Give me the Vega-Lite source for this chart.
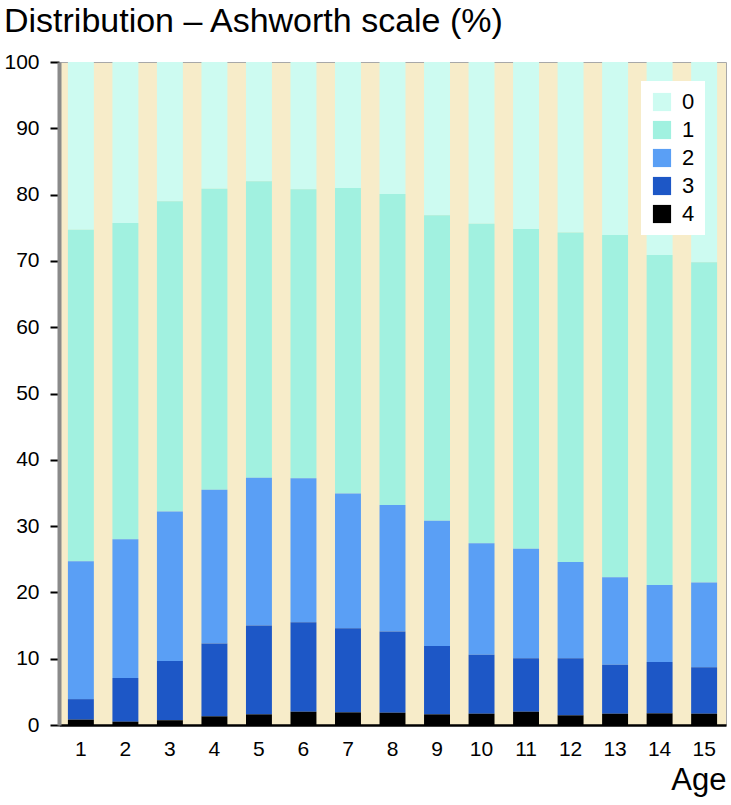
{
  "$schema": "https://vega.github.io/schema/vega-lite/v6.json",
  "width": 667,
  "height": 663,
  "padding": {"left": 3, "top": 5, "right": 4, "bottom": 3},
  "background": "white",
  "config": {
    "font": "Liberation Sans",
    "view": {"fill": "#f7ecc9", "stroke": "#a8a8a8", "strokeWidth": 1}
  },
  "title": {
    "text": "Distribution – Ashworth scale (%)",
    "anchor": "start",
    "frame": "bounds",
    "fontSize": 34,
    "fontWeight": "normal",
    "color": "black",
    "offset": 12
  },
  "data": {
    "values": [
      {"age": 1, "cat": "0", "pct": 25.3}, {"age": 1, "cat": "1", "pct": 50.0}, {"age": 1, "cat": "2", "pct": 20.8}, {"age": 1, "cat": "3", "pct": 3.1}, {"age": 1, "cat": "4", "pct": 0.8},
      {"age": 2, "cat": "0", "pct": 24.3}, {"age": 2, "cat": "1", "pct": 47.7}, {"age": 2, "cat": "2", "pct": 20.9}, {"age": 2, "cat": "3", "pct": 6.6}, {"age": 2, "cat": "4", "pct": 0.5},
      {"age": 3, "cat": "0", "pct": 21.0}, {"age": 3, "cat": "1", "pct": 46.8}, {"age": 3, "cat": "2", "pct": 22.55}, {"age": 3, "cat": "3", "pct": 8.95}, {"age": 3, "cat": "4", "pct": 0.7},
      {"age": 4, "cat": "0", "pct": 19.1}, {"age": 4, "cat": "1", "pct": 45.4}, {"age": 4, "cat": "2", "pct": 23.2}, {"age": 4, "cat": "3", "pct": 11.0}, {"age": 4, "cat": "4", "pct": 1.3},
      {"age": 5, "cat": "0", "pct": 18.0}, {"age": 5, "cat": "1", "pct": 44.7}, {"age": 5, "cat": "2", "pct": 22.3}, {"age": 5, "cat": "3", "pct": 13.4}, {"age": 5, "cat": "4", "pct": 1.6},
      {"age": 6, "cat": "0", "pct": 19.2}, {"age": 6, "cat": "1", "pct": 43.6}, {"age": 6, "cat": "2", "pct": 21.7}, {"age": 6, "cat": "3", "pct": 13.5}, {"age": 6, "cat": "4", "pct": 2.0},
      {"age": 7, "cat": "0", "pct": 19.0}, {"age": 7, "cat": "1", "pct": 46.1}, {"age": 7, "cat": "2", "pct": 20.3}, {"age": 7, "cat": "3", "pct": 12.7}, {"age": 7, "cat": "4", "pct": 1.9},
      {"age": 8, "cat": "0", "pct": 19.9}, {"age": 8, "cat": "1", "pct": 46.9}, {"age": 8, "cat": "2", "pct": 19.1}, {"age": 8, "cat": "3", "pct": 12.25}, {"age": 8, "cat": "4", "pct": 1.85},
      {"age": 9, "cat": "0", "pct": 23.1}, {"age": 9, "cat": "1", "pct": 46.1}, {"age": 9, "cat": "2", "pct": 18.9}, {"age": 9, "cat": "3", "pct": 10.3}, {"age": 9, "cat": "4", "pct": 1.6},
      {"age": 10, "cat": "0", "pct": 24.4}, {"age": 10, "cat": "1", "pct": 48.2}, {"age": 10, "cat": "2", "pct": 16.8}, {"age": 10, "cat": "3", "pct": 8.9}, {"age": 10, "cat": "4", "pct": 1.7},
      {"age": 11, "cat": "0", "pct": 25.2}, {"age": 11, "cat": "1", "pct": 48.2}, {"age": 11, "cat": "2", "pct": 16.55}, {"age": 11, "cat": "3", "pct": 8.05}, {"age": 11, "cat": "4", "pct": 2.0},
      {"age": 12, "cat": "0", "pct": 25.7}, {"age": 12, "cat": "1", "pct": 49.7}, {"age": 12, "cat": "2", "pct": 14.55}, {"age": 12, "cat": "3", "pct": 8.6}, {"age": 12, "cat": "4", "pct": 1.45},
      {"age": 13, "cat": "0", "pct": 26.1}, {"age": 13, "cat": "1", "pct": 51.6}, {"age": 13, "cat": "2", "pct": 13.2}, {"age": 13, "cat": "3", "pct": 7.4}, {"age": 13, "cat": "4", "pct": 1.7},
      {"age": 14, "cat": "0", "pct": 29.1}, {"age": 14, "cat": "1", "pct": 49.8}, {"age": 14, "cat": "2", "pct": 11.6}, {"age": 14, "cat": "3", "pct": 7.75}, {"age": 14, "cat": "4", "pct": 1.75},
      {"age": 15, "cat": "0", "pct": 30.2}, {"age": 15, "cat": "1", "pct": 48.3}, {"age": 15, "cat": "2", "pct": 12.8}, {"age": 15, "cat": "3", "pct": 7.0}, {"age": 15, "cat": "4", "pct": 1.7}
    ]
  },
  "mark": {"type": "bar"},
  "encoding": {
    "x": {
      "field": "age",
      "type": "ordinal",
      "scale": {"paddingInner": 0.417, "paddingOuter": 0.2},
      "axis": {
        "title": "Age",
        "titleAnchor": "end",
        "titleFontSize": 31,
        "titleFontWeight": "normal",
        "titleColor": "black",
        "titlePadding": 6,
        "labelAngle": 0,
        "labelFontSize": 21,
        "labelColor": "black",
        "labelPadding": 13,
        "ticks": false,
        "domainColor": "black",
        "domainWidth": 2.5
      }
    },
    "y": {
      "field": "pct",
      "type": "quantitative",
      "stack": "zero",
      "scale": {"domain": [0, 100], "nice": false},
      "axis": {
        "title": null,
        "grid": false,
        "values": [0, 10, 20, 30, 40, 50, 60, 70, 80, 90, 100],
        "labelFontSize": 21,
        "labelColor": "black",
        "labelPadding": 11,
        "tickSize": 9,
        "tickColor": "black",
        "tickWidth": 2,
        "domainColor": "#8a8a8a",
        "domainWidth": 4
      }
    },
    "color": {
      "field": "cat",
      "type": "nominal",
      "scale": {
        "domain": ["0", "1", "2", "3", "4"],
        "range": ["#cdfbf1", "#a1f1e0", "#5a9ff5", "#1d57c6", "#000000"]
      },
      "legend": {
        "title": null,
        "orient": "none",
        "legendX": 582,
        "legendY": 19,
        "fillColor": "white",
        "padding": 10,
        "symbolType": "square",
        "symbolSize": 330,
        "symbolStrokeWidth": 0,
        "symbolOpacity": 1,
        "labelFontSize": 22,
        "labelColor": "black",
        "labelOffset": 9,
        "rowPadding": 6
      }
    },
    "order": {"field": "cat", "sort": "descending"}
  }
}
